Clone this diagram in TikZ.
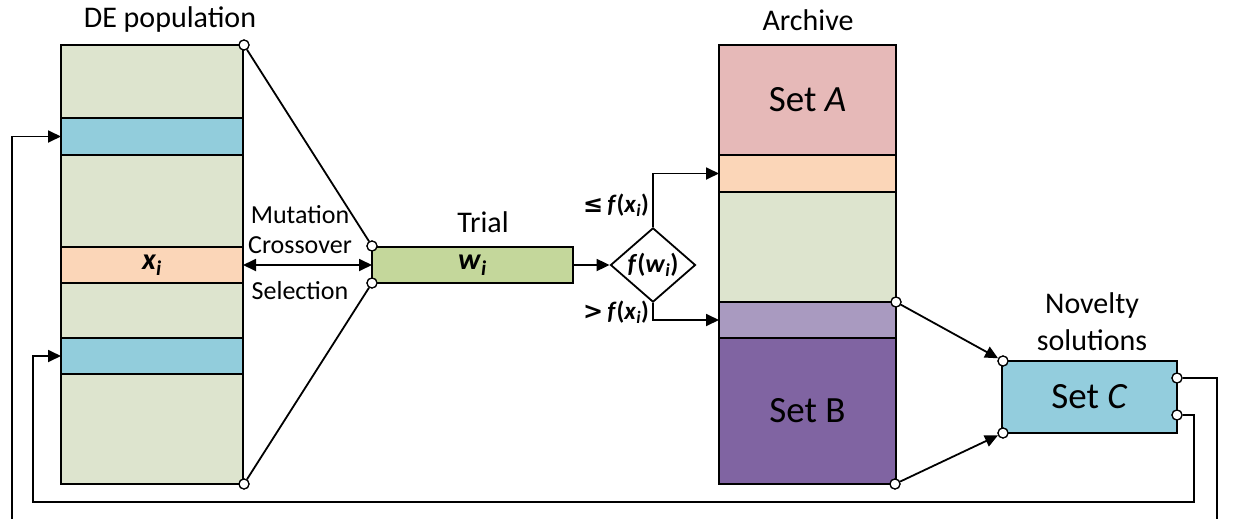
\documentclass[tikz,border=0pt]{standalone}
\usepackage{fontspec}
\setmainfont{Carlito}
\newfontfamily\symbolfont{DejaVu Sans}
\usetikzlibrary{arrows.meta,shapes.geometric}
\definecolor{popgreen}{RGB}{221,228,206}
\definecolor{stripeblue}{RGB}{146,205,220}
\definecolor{peach}{RGB}{251,214,184}
\definecolor{trialgreen}{RGB}{196,215,155}
\definecolor{pinkA}{RGB}{230,185,184}
\definecolor{lilac}{RGB}{169,154,192}
\definecolor{purpleB}{RGB}{128,100,162}
\definecolor{setcblue}{RGB}{147,205,221}
\newcommand{\fx}[1]{\textbf{\textit{f}(\textit{#1}\textsubscript{\textit{i}})}}
\begin{document}
\begin{tikzpicture}[x=1pt,y=-1pt,
  blk/.style={draw=black, line width=2pt, inner sep=0pt, outer sep=0pt, anchor=north west},
  port/.style={circle, draw=black, fill=white, line width=1.2pt, minimum size=10pt, inner sep=0pt},
  conn/.style={line width=1.8pt},
  arr/.style={conn, -{Triangle[length=13pt,width=12pt]}},
  dbl/.style={conn, {Triangle[length=13pt,width=12pt]}-{Triangle[length=13pt,width=12pt]}},
  title/.style={font=\fontsize{30}{36}\selectfont, inner sep=0pt, align=center},
  oplabel/.style={font=\fontsize{26}{30}\selectfont, inner sep=0pt},
  setlabel/.style={font=\fontsize{37}{40}\selectfont}]
\useasboundingbox (0,0) rectangle (1242,519);

% DE population column
\node[blk, fill=popgreen, minimum width=182pt, minimum height=439pt] (de) at (61,45) {};
\node[blk, fill=stripeblue, minimum width=182pt, minimum height=37pt] (bl1) at (61,118) {};
\node[blk, fill=peach, minimum width=182pt, minimum height=36pt,
      font=\fontsize{30}{32}\selectfont] (xi) at (61,247) {\textbf{\textit{x}\textsubscript{\textit{i}}}};
\node[blk, fill=stripeblue, minimum width=182pt, minimum height=36pt] (bl2) at (61,338) {};
\node[title] (detitle) at (170,20) {DE population};

% Trial vector
\node[blk, fill=trialgreen, minimum width=201pt, minimum height=36pt,
      font=\fontsize{30}{32}\selectfont] (trial) at (372,247) {\textbf{\textit{w}\textsubscript{\textit{i}}}};
\node[title] (trialtitle) at (483,222) {Trial};

% Comparison
\node[diamond, draw=black, line width=1.8pt, fill=white, minimum width=85pt, minimum height=51pt,
      inner sep=0pt, font=\fontsize{26}{28}\selectfont] (cmp) at (653,265) {\fx{w}};

% Archive column
\node[blk, fill=pinkA, minimum width=177pt, minimum height=110pt, setlabel] (seta) at (719,45) {Set \textit{A}};
\node[blk, fill=peach, minimum width=177pt, minimum height=37pt] (apeach) at (719,155) {};
\node[blk, fill=popgreen, minimum width=177pt, minimum height=110pt] (agreen) at (719,192) {};
\node[blk, fill=lilac, minimum width=177pt, minimum height=36pt] (lpur) at (719,302) {};
\node[blk, fill=purpleB, minimum width=177pt, minimum height=146pt, setlabel] (setb) at (719,338) {Set B};
\node[title] (archtitle) at (808,20) {Archive};

% Novelty solutions
\node[title, font=\fontsize{30}{37}\selectfont] (novtitle) at (1092,322) {Novelty\\solutions};
\node[blk, fill=setcblue, minimum width=175pt, minimum height=72pt, setlabel] (setc) at (1002,361) {Set \textit{C}};

% Operator labels
\node[oplabel] (mut) at (300,215) {Mutation};
\node[oplabel] (cro) at (300,245) {Crossover};
\node[oplabel] (sel) at (300,291) {Selection};
\node[oplabel, font=\fontsize{25}{28}\selectfont] (le) at (616,205) {{\symbolfont\bfseries\fontsize{24}{28}\selectfont ≤}\,\fx{x}};
\node[oplabel, font=\fontsize{25}{28}\selectfont] (gt) at (616,312) {{\symbolfont\bfseries\fontsize{24}{28}\selectfont >}\,\fx{x}};

% Connection ports
\node[port] (p1) at (244,45) {};
\node[port] (p2) at (244,484) {};
\node[port] (p3) at (372,246) {};
\node[port] (p4) at (372,283) {};
\node[port] (p5) at (896,302) {};
\node[port] (p6) at (895,484) {};
\node[port] (p7) at (1003,361) {};
\node[port] (p8) at (1003,433) {};
\node[port] (p9) at (1177,378) {};
\node[port] (p10) at (1177,415) {};

\coordinate (r1) at (1217,378);
\coordinate (r2) at (1217,530);
\coordinate (r3) at (12,530);
\coordinate (s1) at (1194,415);
\coordinate (s2) at (1194,502);
\coordinate (s3) at (33,502);

% Connectors
\draw[conn] (p1) -- (p3);
\draw[conn] (p2) -- (p4);
\draw[dbl] (xi.east) -- (trial.west);
\draw[arr] (trial.east) -- (cmp.west);
\draw[arr] (cmp.north) |- (apeach.west);
\draw[arr] (cmp.south) |- (lpur.west);
\draw[arr] (p5) -- (p7);
\draw[arr] (p6) -- (p8);
\draw[arr] (p9) -- (r1) -- (r2) -- (r3) |- (bl1.west);
\draw[arr] (p10) -- (s1) -- (s2) -- (s3) |- (bl2.west);

% Redraw ports above the connector ends
\foreach \p in {p1,p2,p3,p4,p5,p6,p7,p8,p9,p10}
  \node[port] at (\p) {};
\end{tikzpicture}
\end{document}
